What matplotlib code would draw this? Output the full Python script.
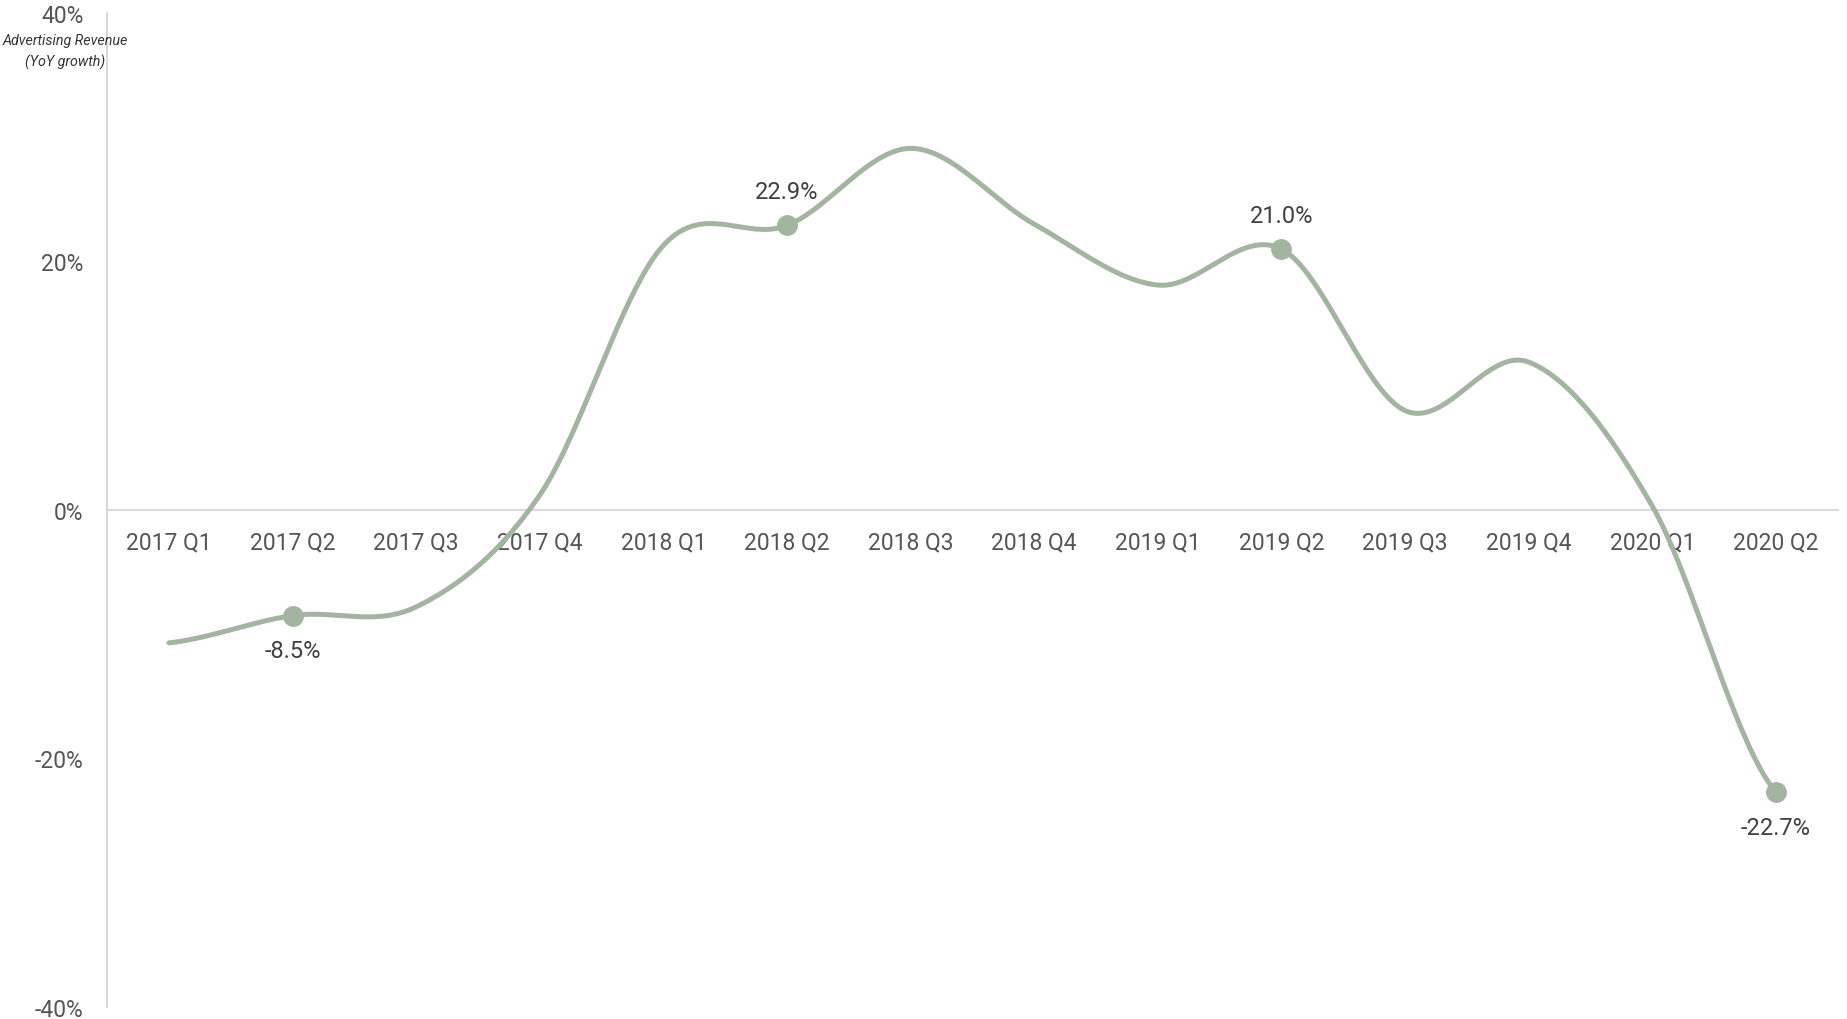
#LIBRARIES
import numpy as np
import matplotlib
matplotlib.use("Agg")
import matplotlib.pyplot as plt

#DATA
quarters = ["2017 Q1", "2017 Q2", "2017 Q3", "2017 Q4",
            "2018 Q1", "2018 Q2", "2018 Q3", "2018 Q4",
            "2019 Q1", "2019 Q2", "2019 Q3", "2019 Q4",
            "2020 Q1", "2020 Q2"]
growth = [-10.7, -8.5, -7.8, 1.2,
          21.3, 22.9, 29.1, 23.0,
          18.1, 21.0, 8.0, 11.9,
          0.3, -22.7]
# points that get a dot and a value label, and where the label goes
labelled = [1, 5, 9, 13]
label_side = ["below", "above", "above", "below"]

y_ticks = [-40, -20, 0, 20, 40]

line_color = "#a3b5a0"
grid_color = "#d9d9d9"

plt.rcParams["font.family"] = ["Roboto", "DejaVu Sans"]


#SMOOTH LINE (catmull-rom through the points)
def smooth(x, y, steps=40):
    x = np.asarray(x, dtype=float)
    y = np.asarray(y, dtype=float)
    n = len(y)
    m = np.zeros(n)
    m[1:-1] = (y[2:] - y[:-2]) / 2
    m[0] = (y[1] - y[0]) / 2
    m[-1] = (y[-1] - y[-2]) / 2
    xs, ys = [], []
    for i in range(n - 1):
        t = np.linspace(0, 1, steps, endpoint=(i == n - 2))
        h00 = 2 * t**3 - 3 * t**2 + 1
        h10 = t**3 - 2 * t**2 + t
        h01 = -2 * t**3 + 3 * t**2
        h11 = t**3 - t**2
        xs.append(x[i] + t * (x[i + 1] - x[i]))
        ys.append(h00 * y[i] + h10 * m[i] + h01 * y[i + 1] + h11 * m[i + 1])
    return np.concatenate(xs), np.concatenate(ys)


#FIGURE
fig = plt.figure(figsize=(18.47, 10.20), dpi=100)
ax = fig.add_axes([0.058, 0.0118, 0.937, 0.9745])

pos = np.arange(len(quarters))
sx, sy = smooth(pos, growth)
ax.plot(sx, sy, color=line_color, lw=3.6, solid_capstyle="round", zorder=3)

for i, side in zip(labelled, label_side):
    ax.plot(pos[i], growth[i], "o", ms=14, color=line_color, zorder=4)
    off = 34 if side == "above" else -35
    ax.annotate(f"{growth[i]:.1f}%", (pos[i], growth[i]),
                xytext=(0, off), textcoords="offset pixels",
                ha="center", va="center", fontsize=17, color="#404040")

#AXES
ax.set_xlim(-0.5, len(quarters) - 0.5)
ax.set_ylim(-40, 40)
ax.set_xticks(pos)
ax.set_xticklabels(quarters)
ax.set_yticks(y_ticks)
ax.set_yticklabels([f"{v}%" for v in y_ticks])

ax.spines["top"].set_visible(False)
ax.spines["right"].set_visible(False)
ax.spines["bottom"].set_position(("data", 0))
ax.spines["bottom"].set_color(grid_color)
ax.spines["left"].set_color(grid_color)
ax.spines["bottom"].set_linewidth(1.5)
ax.spines["left"].set_linewidth(1.5)

ax.tick_params(axis="x", length=0, pad=15, labelsize=16.5, labelcolor="#555555")
ax.tick_params(axis="y", length=0, pad=17, labelsize=16.5, labelcolor="#555555")

#TITLE (small italic note next to the y axis)
fig.text(65 / 1847, 1 - 52 / 1020, "Advertising Revenue\n(YoY growth)",
         ha="center", va="center", style="italic", fontsize=10.3,
         color="#333333", linespacing=1.5)

fig.savefig("out.png", dpi=100)
